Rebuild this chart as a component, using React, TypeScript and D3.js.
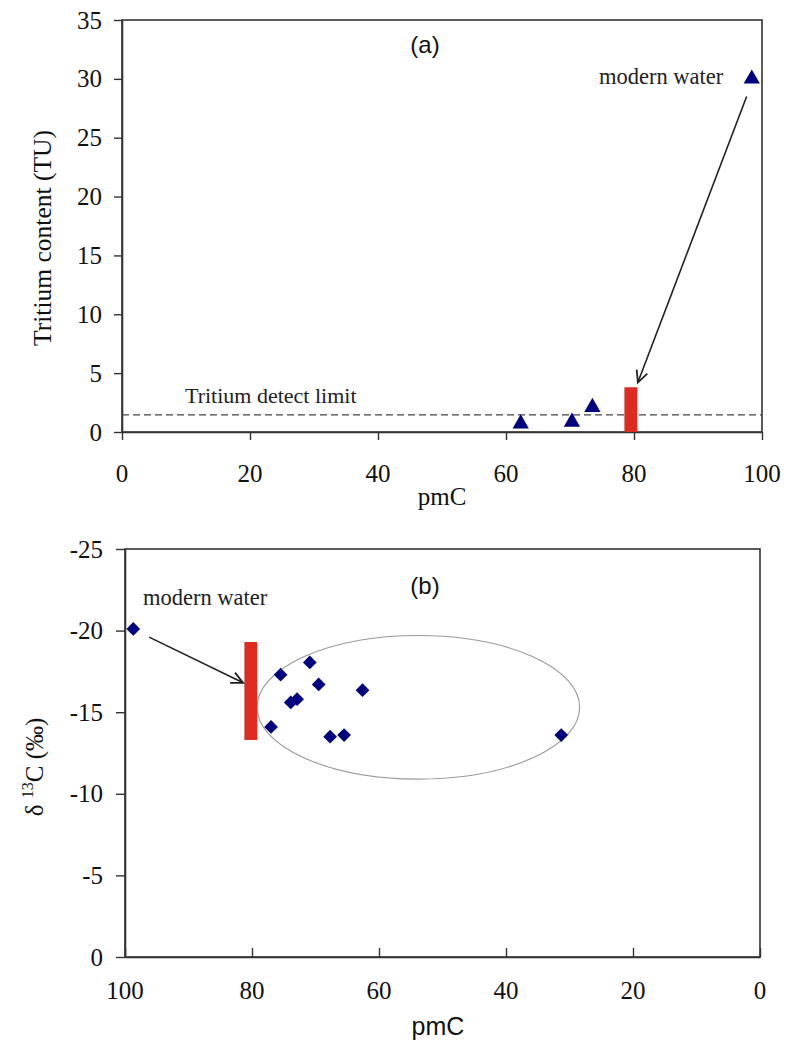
import { useRef, useEffect } from "react";
import * as d3 from "d3";

// panel (a): tritium vs pmC
const tritiumPmc = [62.3, 70.3, 73.5, 98.4];
const tritiumTU = [0.7, 0.85, 2.1, 30];
const detectLimit = 1.45;
const barA = { x0: 78.5, x1: 80.5, y0: 0, y1: 3.8 };
const arrowA = { from: [97.6, 28.5], to: [80.6, 4.2] };

// panel (b): d13C vs pmC
const carbonPmc = [98.7, 75.5, 70.9, 69.5, 73.9, 72.9, 77.0, 67.7, 65.5, 62.6, 31.3];
const carbonD13C = [-20.1, -17.3, -18.05, -16.7, -15.6, -15.8, -14.1, -13.5, -13.6, -16.35, -13.6];
const barB = { x0: 79.2, x1: 81.2, y0: -19.3, y1: -13.3 };
const arrowB = { from: [96.2, -19.6], to: [81.4, -16.8] };
const ellipseB = { cx: 53.8, cy: -15.3, rx: 25.4, ry: 4.4 };

const ticksA_x = [0, 20, 40, 60, 80, 100];
const ticksA_y = [0, 5, 10, 15, 20, 25, 30, 35];
const ticksB_x = [100, 80, 60, 40, 20, 0];
const ticksB_y = [-25, -20, -15, -10, -5, 0];

const SERIF = "Liberation Serif, Times New Roman, serif";
const SANS = "Liberation Sans, Arial, sans-serif";
const NAVY = "#000080";
const RED = "#de2a1f";
const AXIS = "#333";

function arrow(g, x, y, a, color = "#222") {
  const [x1, y1] = [x(a.from[0]), y(a.from[1])];
  const [x2, y2] = [x(a.to[0]), y(a.to[1])];
  g.append("line")
    .attr("x1", x1).attr("y1", y1).attr("x2", x2).attr("y2", y2)
    .attr("stroke", color).attr("stroke-width", 1.6);
  const ang = Math.atan2(y2 - y1, x2 - x1);
  const len = 13, spread = 0.45;
  const p = [ang + Math.PI - spread, ang + Math.PI + spread].map((t) => [
    x2 + len * Math.cos(t),
    y2 + len * Math.sin(t),
  ]);
  g.append("path")
    .attr("d", `M${p[0][0]},${p[0][1]} L${x2},${y2} L${p[1][0]},${p[1][1]}`)
    .attr("fill", "none").attr("stroke", color).attr("stroke-width", 1.8);
}

function styleAxis(sel) {
  sel.select(".domain").attr("stroke", AXIS).attr("stroke-width", 1.6);
  sel.selectAll(".tick line").attr("stroke", AXIS).attr("stroke-width", 1.4);
  sel.selectAll(".tick text").remove();
}

// serif tick labels drawn from the scale
function xLabels(g, x, ticks, y) {
  g.selectAll(null)
    .data(ticks)
    .join("text")
    .attr("x", (d) => x(d))
    .attr("y", y)
    .attr("text-anchor", "middle")
    .attr("font-family", SERIF).attr("font-size", 25).attr("fill", "#111")
    .text((d) => String(d));
}

function yLabels(g, y, ticks, xRight) {
  g.selectAll(null)
    .data(ticks)
    .join("text")
    .attr("x", xRight)
    .attr("y", (d) => y(d) + 8.5)
    .attr("text-anchor", "end")
    .attr("font-family", SERIF).attr("font-size", 25).attr("fill", "#111")
    .text((d) => String(d));
}

export default function App() {
  const svgRef = useRef(null);

  useEffect(() => {
    const svg = d3.select(svgRef.current);
    svg.selectAll("*").remove();

    // ---------- panel (a) ----------
    const xa = d3.scaleLinear().domain([0, 100]).range([122, 762]);
    const ya = d3.scaleLinear().domain([0, 35]).range([432, 20]);
    const ga = svg.append("g");

    ga.append("rect")
      .attr("x", xa(0)).attr("y", ya(35))
      .attr("width", xa(100) - xa(0)).attr("height", ya(0) - ya(35))
      .attr("fill", "none").attr("stroke", AXIS).attr("stroke-width", 1.6);

    const axA_x = ga.append("g").attr("transform", `translate(0,${ya(0)})`)
      .call(d3.axisBottom(xa).tickValues(ticksA_x).tickSize(8).tickSizeOuter(0));
    styleAxis(axA_x);
    xLabels(ga, xa, ticksA_x, 482);

    const axA_y = ga.append("g").attr("transform", `translate(${xa(0)},0)`)
      .call(d3.axisLeft(ya).tickValues(ticksA_y).tickSize(8).tickSizeOuter(0));
    styleAxis(axA_y);
    yLabels(ga, ya, ticksA_y, 102);

    ga.append("line")
      .attr("x1", xa(0)).attr("x2", xa(100))
      .attr("y1", ya(detectLimit)).attr("y2", ya(detectLimit))
      .attr("stroke", "#444").attr("stroke-width", 1.3)
      .attr("stroke-dasharray", "7,4");

    ga.append("rect")
      .attr("x", xa(barA.x0)).attr("y", ya(barA.y1))
      .attr("width", xa(barA.x1) - xa(barA.x0)).attr("height", ya(barA.y0) - ya(barA.y1))
      .attr("fill", RED);

    const tri = d3.symbol().type(d3.symbolTriangle).size(115);
    ga.selectAll("path.pt")
      .data(tritiumPmc)
      .join("path")
      .attr("class", "pt")
      .attr("d", tri)
      .attr("transform", (d, i) => `translate(${xa(d)},${ya(tritiumTU[i])})`)
      .attr("fill", NAVY);

    arrow(ga, xa, ya, arrowA);

    ga.append("text").attr("x", 425).attr("y", 53).attr("text-anchor", "middle")
      .attr("font-family", SANS).attr("font-size", 24).attr("fill", "#111").text("(a)");
    ga.append("text").attr("x", 599).attr("y", 84)
      .attr("font-family", SERIF).attr("font-size", 22.5).attr("fill", "#222").text("modern water");
    ga.append("text").attr("x", 185).attr("y", 403)
      .attr("font-family", SERIF).attr("font-size", 22).attr("fill", "#222").text("Tritium detect limit");
    ga.append("text").attr("x", 442).attr("y", 505).attr("text-anchor", "middle")
      .attr("font-family", SERIF).attr("font-size", 25).attr("fill", "#111").text("pmC");
    ga.append("text")
      .attr("transform", `translate(51,238) rotate(-90)`)
      .attr("text-anchor", "middle")
      .attr("font-family", SERIF).attr("font-size", 25.5).attr("fill", "#111")
      .text("Tritium content (TU)");

    // ---------- panel (b) ----------
    const xb = d3.scaleLinear().domain([100, 0]).range([125, 760]);
    const yb = d3.scaleLinear().domain([-25, 0]).range([549, 957]);
    const gb = svg.append("g");

    gb.append("rect")
      .attr("x", xb(100)).attr("y", yb(-25))
      .attr("width", xb(0) - xb(100)).attr("height", yb(0) - yb(-25))
      .attr("fill", "none").attr("stroke", AXIS).attr("stroke-width", 1.6);

    const axB_x = gb.append("g").attr("transform", `translate(0,${yb(0)})`)
      .call(d3.axisBottom(xb).tickValues(ticksB_x).tickSizeInner(-9).tickSizeOuter(0));
    styleAxis(axB_x);
    xLabels(gb, xb, ticksB_x, 999);

    const axB_y = gb.append("g").attr("transform", `translate(${xb(100)},0)`)
      .call(d3.axisLeft(yb).tickValues(ticksB_y).tickSize(9).tickSizeOuter(0));
    styleAxis(axB_y);
    yLabels(gb, yb, ticksB_y, 103);

    gb.append("ellipse")
      .attr("cx", xb(ellipseB.cx)).attr("cy", yb(ellipseB.cy))
      .attr("rx", Math.abs(xb(ellipseB.rx) - xb(0))).attr("ry", yb(ellipseB.ry) - yb(0))
      .attr("fill", "none").attr("stroke", "#999").attr("stroke-width", 1.1);

    gb.append("rect")
      .attr("x", xb(barB.x1)).attr("y", yb(barB.y0))
      .attr("width", xb(barB.x0) - xb(barB.x1)).attr("height", yb(barB.y1) - yb(barB.y0))
      .attr("fill", RED);

    const dia = d3.symbol().type(d3.symbolDiamond2).size(120);
    gb.selectAll("path.pt")
      .data(carbonPmc)
      .join("path")
      .attr("class", "pt")
      .attr("d", dia)
      .attr("transform", (d, i) => `translate(${xb(d)},${yb(carbonD13C[i])})`)
      .attr("fill", NAVY);

    arrow(gb, xb, yb, arrowB);

    gb.append("text").attr("x", 425).attr("y", 594).attr("text-anchor", "middle")
      .attr("font-family", SANS).attr("font-size", 24).attr("fill", "#111").text("(b)");
    gb.append("text").attr("x", 143).attr("y", 605)
      .attr("font-family", SERIF).attr("font-size", 22.5).attr("fill", "#222").text("modern water");
    gb.append("text").attr("x", 438).attr("y", 1035).attr("text-anchor", "middle")
      .attr("font-family", SANS).attr("font-size", 25).attr("fill", "#111").text("pmC");

    const t = gb.append("text")
      .attr("transform", `translate(43,767) rotate(-90)`)
      .attr("text-anchor", "middle")
      .attr("font-family", SERIF).attr("font-size", 25).attr("fill", "#111");
    t.append("tspan").text("δ ");
    t.append("tspan").attr("font-size", 16).attr("dy", -10).text("13");
    t.append("tspan").attr("dy", 10).text("C (‰)");
  }, []);

  return (
    <svg
      ref={svgRef}
      width={788}
      height={1044}
      style={{ position: "absolute", left: 0, top: 0, background: "#fff" }}
    />
  );
}
